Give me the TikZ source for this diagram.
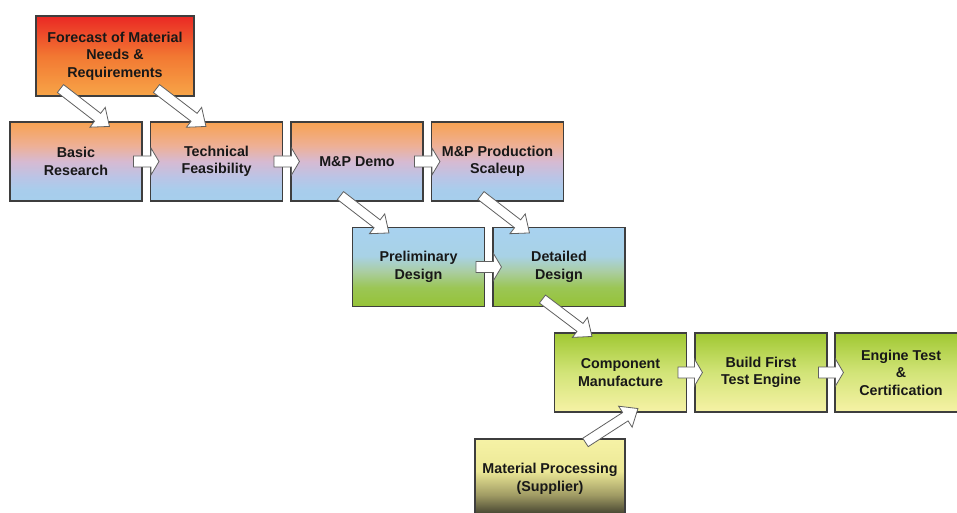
\documentclass[tikz,border=0pt]{standalone}
\usepackage{fontspec}
\setmainfont{Liberation Sans}
\usetikzlibrary{calc}

\definecolor{boxLine}{RGB}{62,62,62}
\definecolor{arrLine}{RGB}{96,96,96}
\definecolor{txt}{RGB}{24,24,24}

% vertical fills; the box itself spans 25bp (bottom) to 75bp (top)
\pgfdeclareverticalshading{fcfill}{100bp}{%
  rgb(0bp)=(0.969,0.647,0.282); rgb(25bp)=(0.969,0.647,0.282);
  rgb(50bp)=(0.949,0.471,0.196);
  rgb(75bp)=(0.918,0.157,0.141); rgb(100bp)=(0.918,0.157,0.141)}
\pgfdeclareverticalshading{rowonefill}{100bp}{%
  rgb(0bp)=(0.651,0.808,0.925); rgb(25bp)=(0.651,0.808,0.925);
  rgb(32bp)=(0.659,0.804,0.925);
  rgb(40bp)=(0.729,0.769,0.902);
  rgb(50bp)=(0.839,0.729,0.824);
  rgb(60bp)=(0.933,0.690,0.588);
  rgb(75bp)=(0.969,0.635,0.322); rgb(100bp)=(0.969,0.635,0.322)}
\pgfdeclareverticalshading{rowtwofill}{100bp}{%
  rgb(0bp)=(0.588,0.765,0.216); rgb(25bp)=(0.588,0.765,0.216);
  rgb(37bp)=(0.608,0.776,0.333);
  rgb(47bp)=(0.667,0.804,0.627);
  rgb(57bp)=(0.659,0.824,0.902);
  rgb(75bp)=(0.659,0.824,0.941); rgb(100bp)=(0.659,0.824,0.941)}
\pgfdeclareverticalshading{rowthreefill}{100bp}{%
  rgb(0bp)=(0.965,0.949,0.651); rgb(25bp)=(0.965,0.949,0.651);
  rgb(50bp)=(0.824,0.894,0.471);
  rgb(75bp)=(0.627,0.784,0.196); rgb(100bp)=(0.627,0.784,0.196)}
\pgfdeclareverticalshading{supplierfill}{100bp}{%
  rgb(0bp)=(0.176,0.176,0.137); rgb(25bp)=(0.176,0.176,0.137);
  rgb(40bp)=(0.627,0.608,0.392);
  rgb(55bp)=(0.925,0.910,0.588);
  rgb(75bp)=(0.965,0.949,0.651); rgb(100bp)=(0.965,0.949,0.651)}

\tikzset{
  box/.style={draw=boxLine, line width=1.1pt, inner sep=0pt, align=center,
    text=txt, font=\fontsize{14.3}{17.5}\selectfont\bfseries},
  rowbox/.style={box, minimum width=132pt, minimum height=79pt},
  rowone/.style={rowbox, shading=rowonefill},
  rowtwo/.style={rowbox, shading=rowtwofill},
  rowthree/.style={rowbox, shading=rowthreefill},
  blockarr/.style={draw=arrLine, fill=white, line width=0.8pt, line join=miter},
}

% block arrow: #1 tail, #2 tip, #3 head length, #4 head half-width, #5 shaft half-width
\newcommand\blockarrow[5]{%
  \coordinate (ba-s) at #1;
  \coordinate (ba-t) at #2;
  \coordinate (ba-b) at ($(ba-t)!#3!(ba-s)$);
  \draw[blockarr] ($(ba-s)!#5!90:(ba-t)$) -- ($(ba-b)!#5!90:(ba-t)$)
    -- ($(ba-b)!#4!90:(ba-t)$) -- (ba-t) -- ($(ba-b)!#4!-90:(ba-t)$)
    -- ($(ba-b)!#5!-90:(ba-t)$) -- ($(ba-s)!#5!-90:(ba-t)$) -- cycle;}
\newcommand\sidearrow[2]{\blockarrow{#1}{#2}{8pt}{13.5pt}{5.5pt}}
\newcommand\slantarrow[2]{\blockarrow{#1}{#2}{15pt}{12.5pt}{5pt}}

\begin{document}
\begin{tikzpicture}[x=1pt, y=-1pt]
  \useasboundingbox (0,0) rectangle (957,513);
  \clip (0,0) rectangle (957,513);

  % planning box
  \node[box, minimum width=158pt, minimum height=80pt, shading=fcfill]
        (fc) at (115,56) {Forecast of Material\\Needs \&\\Requirements};

  % materials and processes row
  \node[rowone] (br) at (76,161.5)    {Basic\\Research};
  \node[rowone] (tf) at (216.5,161.5) {Technical\\Feasibility};
  \node[rowone] (md) at (357,161.5)   {M\&P Demo};
  \node[rowone] (ps) at (497.5,161.5) {M\&P Production\\Scaleup};

  % design row
  \node[rowtwo] (pd) at (418.5,267) {Preliminary\\Design};
  \node[rowtwo] (dd) at (559,267)   {Detailed\\Design};

  % manufacture and test row
  \node[rowthree] (cm) at (620.5,372.5) {Component\\Manufacture};
  \node[rowthree] (bf) at (761,372.5)   {Build First\\Test Engine};
  \node[rowthree] (et) at (901,372.5)   {Engine Test\\\&\\Certification};

  % supplier
  \node[box, minimum width=150pt, minimum height=80pt, shading=supplierfill]
        (mp) at (550,479) {Material Processing\\(Supplier)};

  % flow arrows
  \slantarrow{($(fc.south west)+(25,-8)$)}{($(br.north west)+(100,5)$)}
  \slantarrow{($(fc.south west)+(121,-8)$)}{($(tf.north west)+(56,5)$)}
  \sidearrow{($(br.east)+(-9,0)$)}{($(tf.west)+(9,0)$)}
  \sidearrow{($(tf.east)+(-9,0)$)}{($(md.west)+(9,0)$)}
  \sidearrow{($(md.east)+(-9,0)$)}{($(ps.west)+(9,0)$)}
  \slantarrow{($(md.south west)+(50,-6)$)}{($(pd.north west)+(37,6)$)}
  \slantarrow{($(ps.south west)+(50,-6)$)}{($(dd.north west)+(37,6)$)}
  \sidearrow{($(pd.east)+(-9,0)$)}{($(dd.west)+(9,0)$)}
  \slantarrow{($(dd.south west)+(50,-8)$)}{($(cm.north west)+(38,4)$)}
  \sidearrow{($(cm.east)+(-9,0)$)}{($(bf.west)+(8,0)$)}
  \sidearrow{($(bf.east)+(-9,0)$)}{($(et.west)+(9,0)$)}
  \slantarrow{($(mp.north west)+(111,4)$)}{($(cm.south west)+(84,-4)$)}
\end{tikzpicture}
\end{document}
